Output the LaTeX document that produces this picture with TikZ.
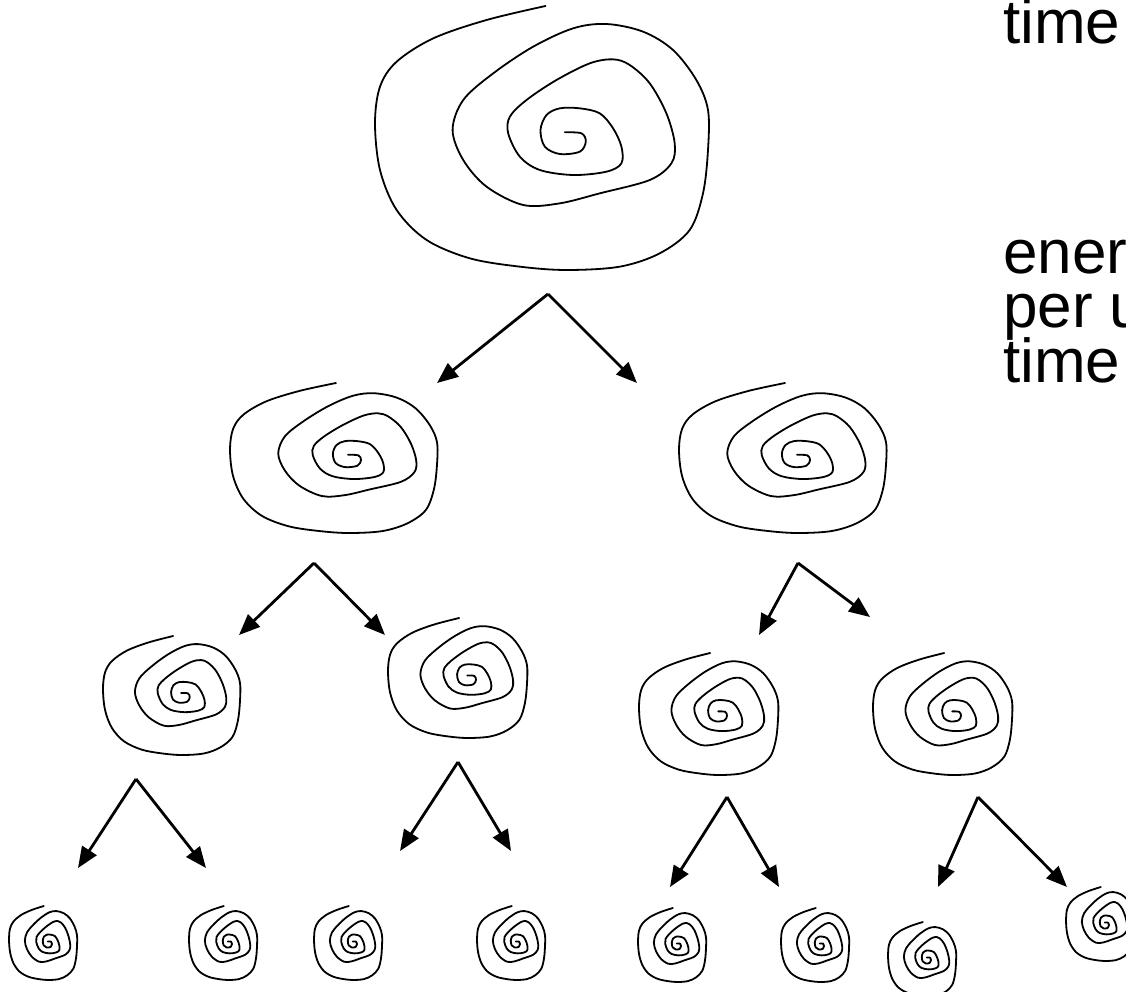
\documentclass[tikz,border=0pt]{standalone}
\usepackage{fontspec}
\setmainfont{Liberation Sans}
\usetikzlibrary{arrows.meta}

\tikzset{
  eddyline/.style={line width=1.8pt, black, line join=round, line cap=round},
  cascade/.style={line width=2.8pt, black, -{Triangle[length=21pt,width=17pt]}},
  label/.style={anchor=base west, inner sep=0pt, font=\fontsize{62}{55}\selectfont},
  % one eddy: a spiral in a 1000 x 792 box, tail at the top
  eddy/.pic={
    \draw[eddyline] plot[smooth, tension=0.55] coordinates {
      (512,0) (335,42) (175,97) (65,167) (15,242) (0,352) (15,492) (65,612)
      (155,702) (285,757) (435,782) (575,792) (735,782) (855,742) (945,672)
      (985,562) (1000,432) (1000,312) (965,222) (895,132) (805,77) (695,54)
      (595,67) (475,122) (355,202) (265,282) (233,372) (265,462) (335,542)
      (445,597) (555,592) (675,562) (825,522) (890,472) (900,412) (875,322)
      (825,232) (765,177) (715,160) (645,172) (545,222) (455,282) (405,332)
      (400,382) (435,452) (495,492) (595,507) (695,497) (740,472) (740,422)
      (715,367) (675,322) (615,307) (555,307) (515,327) (497,372) (510,422)
      (555,444) (615,437) (633,407) (620,382) (570,379)};
  }
}

% \eddyat{left}{top}{width}{height}
\newcommand{\eddyat}[4]{%
  \pic[xscale=#3/1000, yscale=#4/792] at (#1,#2) {eddy};}

\begin{document}
\begin{tikzpicture}[x=1pt, y=-1pt]
\useasboundingbox (0,0) rectangle (1126,991);
\clip (0,0) rectangle (1126,991);

% largest eddy
\eddyat{375}{6}{333}{264}
% second generation
\eddyat{230}{383}{207}{150}
\eddyat{679}{383}{207}{150}
% third generation
\eddyat{103}{636}{137}{119}
\eddyat{388}{618}{139}{120}
\eddyat{639}{653}{139}{122}
\eddyat{873}{653}{139}{122}
% smallest eddies
\eddyat{9}{906}{68}{74}
\eddyat{189}{906}{68}{74}
\eddyat{314}{906}{68}{74}
\eddyat{477}{906}{68}{74}
\eddyat{638}{908}{68}{74}
\eddyat{781}{908}{68}{74}
\eddyat{888}{922}{68}{74}
\eddyat{1066}{887}{68}{74}

% branching points and arrow targets
\coordinate (s0) at (548,294);
\coordinate (s0l) at (437,383);  \coordinate (s0r) at (637,383);
\coordinate (s1) at (314,563);
\coordinate (s1l) at (239,635);  \coordinate (s1r) at (385,635);
\coordinate (s2) at (798,563);
\coordinate (s2l) at (759,635);  \coordinate (s2r) at (870,617);
\coordinate (s3) at (136,779);
\coordinate (s3l) at (78,868);   \coordinate (s3r) at (206,868);
\coordinate (s4) at (458,762);
\coordinate (s4l) at (400,851);  \coordinate (s4r) at (511,851);
\coordinate (s5) at (727,797);
\coordinate (s5l) at (670,887);  \coordinate (s5r) at (779,887);
\coordinate (s6) at (978,797);
\coordinate (s6l) at (938,887);  \coordinate (s6r) at (1067,887);

\foreach \s in {s0,s1,s2,s3,s4,s5,s6}{
  \draw[cascade] (\s) -- (\s l);
  \draw[cascade] (\s) -- (\s r);
}

% labels at the right edge
\node[label] (t1) at (1003,43) {time};
\node[label] (t2) at (1003,273) {ener};
\node[label] (t3) at (1003,327) {per u};
\node[label] (t4) at (1003,382) {time};
\end{tikzpicture}
\end{document}
